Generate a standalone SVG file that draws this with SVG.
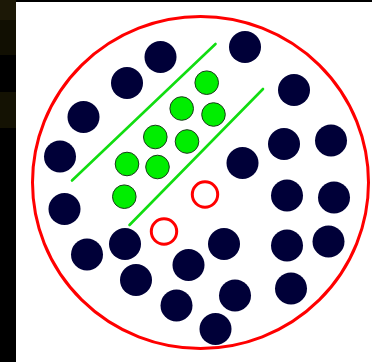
<svg xmlns="http://www.w3.org/2000/svg" width="372" height="362" viewBox="0 0 372 362">
<style>
.n{fill:#000038}
.g{fill:#00ee00;stroke:#1a3a1a;stroke-width:1}
.r{fill:none;stroke:#ff0000;stroke-width:3}
.l{stroke:#11dd11;stroke-width:2.6;stroke-linecap:round}
</style>
<rect x="0" y="0" width="372" height="362" fill="#000"/>
<rect x="0" y="0" width="16" height="20" fill="#1c1806"/>
<rect x="0" y="20" width="16" height="35" fill="#110f02"/>
<rect x="0" y="92" width="16" height="36" fill="#141203"/>
<rect x="16" y="2" width="356" height="360" fill="#fff"/>
<ellipse id="boundary" cx="200.5" cy="182.5" rx="168" ry="166" fill="none" stroke="#ff0000" stroke-width="3"/>
<g id="connectors">
<line class="l" x1="72" y1="180.5" x2="215.5" y2="44"/>
<line class="l" x1="129.5" y1="225" x2="263" y2="89"/>
</g>
<g id="dark">
<circle class="n" cx="245" cy="47" r="16"/>
<circle class="n" cx="160.5" cy="57" r="16"/>
<circle class="n" cx="127" cy="83" r="16"/>
<circle class="n" cx="83.5" cy="117" r="16"/>
<circle class="n" cx="60" cy="156.5" r="16"/>
<circle class="n" cx="64.5" cy="209" r="16"/>
<circle class="n" cx="87" cy="254.5" r="16"/>
<circle class="n" cx="125" cy="244" r="16"/>
<circle class="n" cx="136" cy="280" r="16"/>
<circle class="n" cx="176.5" cy="305.5" r="16"/>
<circle class="n" cx="215.5" cy="329" r="16"/>
<circle class="n" cx="235" cy="295.5" r="16"/>
<circle class="n" cx="188.5" cy="265" r="16"/>
<circle class="n" cx="224" cy="244" r="16"/>
<circle class="n" cx="242.5" cy="163" r="16"/>
<circle class="n" cx="294" cy="90" r="16"/>
<circle class="n" cx="284" cy="144" r="16"/>
<circle class="n" cx="331" cy="140.5" r="16"/>
<circle class="n" cx="287" cy="195.5" r="16"/>
<circle class="n" cx="334" cy="197.5" r="16"/>
<circle class="n" cx="287" cy="245.5" r="16"/>
<circle class="n" cx="328.5" cy="241.5" r="16"/>
<circle class="n" cx="291" cy="288.5" r="16"/>
</g>
<g id="green">
<circle class="g" cx="206.7" cy="82.7" r="11.8"/>
<circle class="g" cx="181.7" cy="108.5" r="11.8"/>
<circle class="g" cx="213.5" cy="114.5" r="11.8"/>
<circle class="g" cx="155.3" cy="137" r="11.8"/>
<circle class="g" cx="187" cy="141.5" r="11.8"/>
<circle class="g" cx="127" cy="164" r="11.8"/>
<circle class="g" cx="157.5" cy="167" r="11.8"/>
<circle class="g" cx="124.3" cy="196.7" r="11.8"/>
</g>
<g id="rings">
<circle class="r" cx="205" cy="194.5" r="12.7"/>
<circle class="r" cx="164" cy="231.5" r="12.7"/>
</g>
</svg>
